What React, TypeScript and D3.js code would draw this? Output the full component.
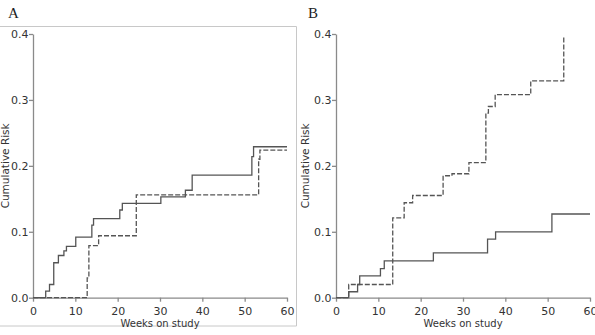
import React, { useEffect, useRef } from "react";
import * as d3 from "d3";

// step curves: event week and cumulative risk after the step
const weeksASolid = [0, 3, 3.9, 4.9, 6, 7.3, 7.9, 10.1, 13.9, 14.3, 20.5, 21.1, 30.2, 36, 37.6, 51.7, 52.1, 60];
const riskASolid = [0, 0.01, 0.02, 0.053, 0.064, 0.071, 0.078, 0.092, 0.11, 0.12, 0.133, 0.143, 0.153, 0.163, 0.186, 0.214, 0.229, 0.229];
const weeksADashed = [0, 12.8, 13.2, 15.5, 24.4, 53.3, 53.6, 60];
const riskADashed = [0, 0.03, 0.079, 0.094, 0.156, 0.21, 0.224, 0.224];

const weeksBSolid = [0, 3, 5.1, 5.6, 10.5, 11.4, 23, 35.8, 37.7, 51, 60];
const riskBSolid = [0, 0.009, 0.02, 0.033, 0.044, 0.056, 0.068, 0.089, 0.1, 0.127, 0.127];
const weeksBDashed = [0, 3, 13.4, 16.1, 18.1, 25.3, 27.4, 31.4, 35.4, 36, 37.6, 46, 53.8];
const riskBDashed = [0, 0.02, 0.121, 0.144, 0.155, 0.185, 0.188, 0.205, 0.28, 0.29, 0.308, 0.329, 0.395];

const xTicks = [0, 10, 20, 30, 40, 50, 60];
const yTicks = [0, 0.1, 0.2, 0.3, 0.4];

const FONT = "'DejaVu Sans', Verdana, sans-serif";

const App = () => {
  const svgRef = useRef<SVGSVGElement>(null);
  const svgWidth = 595;
  const svgHeight = 335;

  useEffect(() => {
    const svg = d3.select(svgRef.current);
    svg.selectAll("*").remove();

    // frame round panel A
    svg
      .append("path")
      .attr("d", "M0,26.5 H296.5 V326 H0")
      .attr("stroke", "#c8c8c8")
      .attr("fill", "none");

    const panels = [
      {
        letter: "A",
        letterX: 8,
        left: 33,
        right: 287,
        labelX: 5,
        curves: [
          { weeks: weeksASolid, risk: riskASolid, dash: null },
          { weeks: weeksADashed, risk: riskADashed, dash: "5,2" },
        ],
      },
      {
        letter: "B",
        letterX: 308,
        left: 336,
        right: 590,
        labelX: 305,
        curves: [
          { weeks: weeksBSolid, risk: riskBSolid, dash: null },
          { weeks: weeksBDashed, risk: riskBDashed, dash: "5,2" },
        ],
      },
    ];

    panels.forEach((p) => {
      const x = d3.scaleLinear().domain([0, 60]).range([p.left, p.right]);
      const y = d3.scaleLinear().domain([0, 0.4]).range([297.7, 34]);
      const g = svg.append("g");

      g.append("text")
        .attr("x", p.letterX)
        .attr("y", 18)
        .attr("font-family", "'Liberation Serif', 'DejaVu Serif', serif")
        .attr("font-size", 15)
        .attr("fill", "#222")
        .text(p.letter);

      const xAxis = g
        .append("g")
        .attr("transform", `translate(0,${y(0)})`)
        .call(d3.axisBottom(x).tickValues(xTicks).tickSize(4).tickSizeOuter(0).tickFormat(d3.format("d")));
      const yAxis = g
        .append("g")
        .attr("transform", `translate(${x(0)},0)`)
        .call(d3.axisLeft(y).tickValues(yTicks).tickSize(4).tickSizeOuter(0).tickFormat(d3.format(".1f")));

      [xAxis, yAxis].forEach((ax) => {
        ax.selectAll("path,line").attr("stroke", "#8a8a8a").attr("stroke-width", 1.3);
        ax.selectAll("text")
          .attr("font-family", FONT)
          .attr("font-size", 11)
          .attr("fill", "#333");
      });
      xAxis.selectAll("text").attr("dy", "0.9em");
      yAxis.selectAll("text").attr("x", -4.5);

      g.append("text")
        .attr("x", (p.left + p.right) / 2)
        .attr("y", 327)
        .attr("text-anchor", "middle")
        .attr("font-family", FONT)
        .attr("font-size", 10)
        .attr("fill", "#333")
        .text("Weeks on study");

      g.append("text")
        .attr("transform", `translate(${p.labelX},${y(0.2)}) rotate(-90)`)
        .attr("text-anchor", "middle")
        .attr("dy", "0.35em")
        .attr("font-family", FONT)
        .attr("font-size", 10.5)
        .attr("fill", "#333")
        .text("Cumulative Risk");

      p.curves.forEach((c) => {
        const pts = c.weeks.map((w, i) => [x(w), y(c.risk[i])] as [number, number]);
        g.append("path")
          .attr("d", d3.line().curve(d3.curveStepAfter)(pts)!)
          .attr("fill", "none")
          .attr("stroke", "#555")
          .attr("stroke-width", 1.3)
          .attr("stroke-dasharray", c.dash);
      });
    });
  }, []);

  return (
    <svg
      ref={svgRef}
      width={svgWidth}
      height={svgHeight}
      style={{ position: "absolute", left: 0, top: 0, background: "#fff" }}
    />
  );
};

export default App;
